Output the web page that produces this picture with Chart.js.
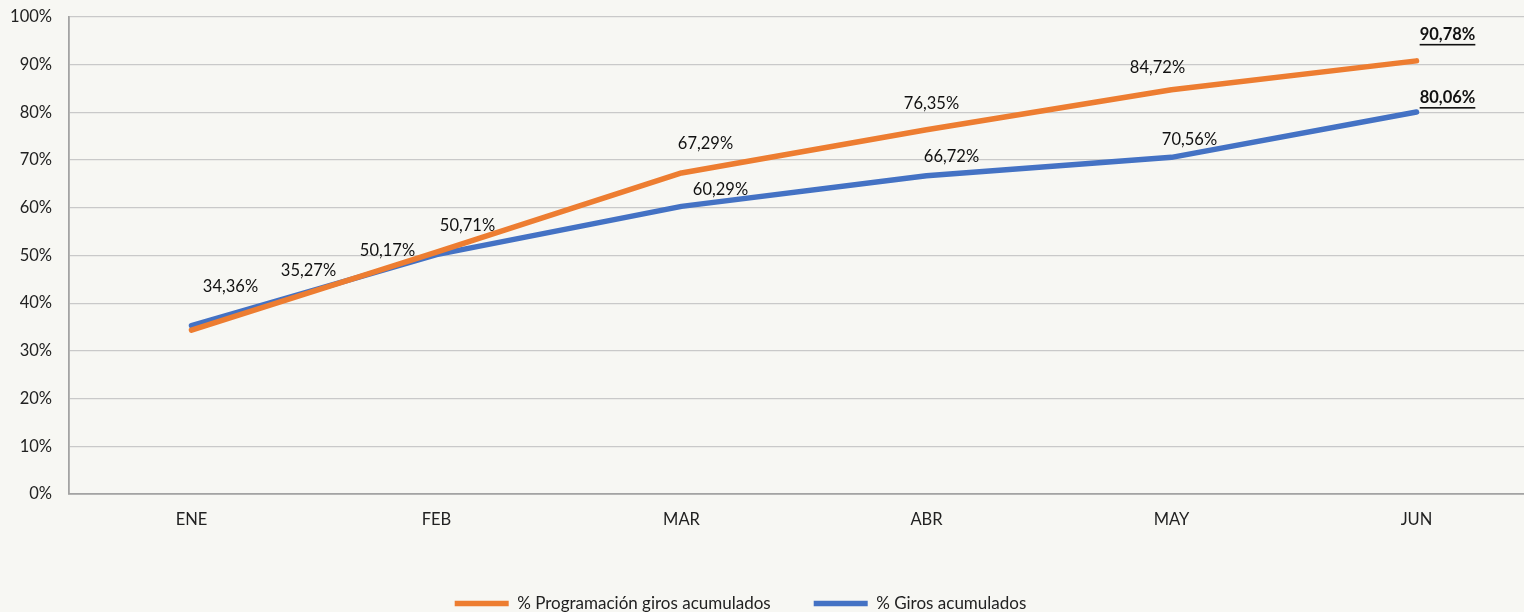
<!DOCTYPE html>
<html>
<head>
<meta charset="utf-8">
<title>Giros acumulados</title>
<script src="https://cdn.jsdelivr.net/npm/chart.js"></script>
<style>
  html, body { margin: 0; padding: 0; background: #f7f7f3; overflow: hidden; }
  #wrap { width: 1539px; height: 632px; margin-top: -10px; }
</style>
</head>
<body>
<div id="wrap"><canvas id="giros"></canvas></div>
<script>
// meses
const meses = ['ENE', 'FEB', 'MAR', 'ABR', 'MAY', 'JUN'];

// % acumulado
const programacion = [34.36, 50.71, 67.29, 76.35, 84.72, 90.78];
const giros = [35.27, 50.17, 60.29, 66.72, 70.56, 80.06];

// desplazamiento de etiquetas (px), como en el original
const offProg = [[39, -43], [31, -26], [24, -29], [5, -26], [-14, -22], [31, -26]];
const offGiros = [[117, -55], [-49, -4], [39, -17], [25, -19], [18, -18], [31, -14]];

const FONT = 'Lato, "Open Sans", sans-serif';

const fmt = v => v.toFixed(2).replace('.', ',') + '%';

// etiquetas de datos
const etiquetas = {
  id: 'etiquetas',
  afterLayout(chart) {
    // la leyenda del original está algo a la izquierda
    chart.legend.left -= 29;
    chart.legend.right -= 29;
  },
  afterDatasetsDraw(chart) {
    const ctx = chart.ctx;
    const offs = [offProg, offGiros];
    ctx.save();
    ctx.textAlign = 'center';
    ctx.textBaseline = 'middle';
    ctx.fillStyle = '#111';
    chart.data.datasets.forEach((ds, di) => {
      chart.getDatasetMeta(di).data.forEach((pt, i) => {
        const last = i === ds.data.length - 1;
        const txt = fmt(ds.data[i]);
        const x = pt.x + offs[di][i][0];
        const y = pt.y + offs[di][i][1];
        ctx.font = (last ? 'bold ' : '') + '16.5px ' + FONT;
        ctx.fillText(txt, x, y);
        if (last) {
          const w = ctx.measureText(txt).width;
          ctx.fillRect(x - w / 2, y + 9, w, 1.6);
        }
      });
    });
    ctx.restore();
  }
};

new Chart(document.getElementById('giros'), {
  type: 'line',
  data: {
    labels: meses,
    datasets: [
      {
        label: '% Programación giros acumulados',
        data: programacion,
        borderColor: '#ED7D31',
        backgroundColor: '#ED7D31',
        borderWidth: 5.5,
        borderCapStyle: 'round',
        borderJoinStyle: 'round',
        pointRadius: 0,
        tension: 0
      },
      {
        label: '% Giros acumulados',
        data: giros,
        borderColor: '#4472C4',
        backgroundColor: '#4472C4',
        borderWidth: 5.5,
        borderCapStyle: 'round',
        borderJoinStyle: 'round',
        pointRadius: 0,
        tension: 0
      }
    ]
  },
  options: {
    responsive: true,
    maintainAspectRatio: false,
    animation: false,
    layout: { padding: { top: 8, right: 0, left: 0, bottom: 0 } },
    plugins: {
      legend: {
        position: 'bottom',
        labels: {
          usePointStyle: true,
          pointStyle: 'line',
          pointStyleWidth: 54,
          padding: 43,
          color: '#222',
          font: { family: FONT, size: 17 }
        }
      },
      tooltip: { enabled: false }
    },
    scales: {
      x: {
        offset: true,
        grid: { display: false, drawTicks: false },
        border: { color: '#a3a3a3', width: 1.8 },
        ticks: { color: '#222', padding: 16, font: { family: FONT, size: 16.5 } },
        afterFit(scale) { scale.height = 58; }
      },
      y: {
        min: 0,
        max: 100,
        grid: { color: '#c9c9c9', lineWidth: 1.3, drawTicks: false },
        border: { color: '#a3a3a3', width: 1.8 },
        ticks: {
          stepSize: 10,
          color: '#222',
          padding: 17,
          font: { family: FONT, size: 16.5 },
          callback: v => v + '%'
        },
        afterFit(scale) { scale.width = 69; }
      }
    }
  },
  plugins: [etiquetas]
});
</script>
</body>
</html>
